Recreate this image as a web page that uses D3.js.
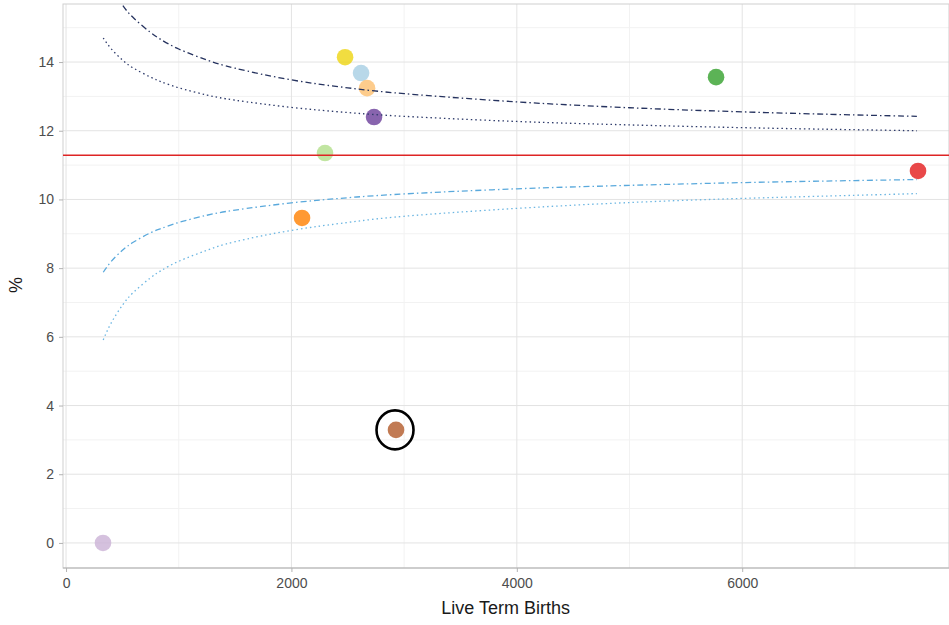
<!DOCTYPE html>
<html>
<head>
<meta charset="utf-8">
<script src="https://cdn.jsdelivr.net/npm/d3@7"></script>
<style>
  body { margin: 0; background: #fff; }
  svg { display: block; font-family: "Liberation Sans", Arial, sans-serif; }
</style>
</head>
<body>
<svg id="chart" width="949" height="625"></svg>
<script>
// units
var births  = [328, 2094, 2298, 2476, 2618, 2671, 2733, 2928, 5768, 7560];
var percent = [0, 9.46, 11.35, 14.14, 13.68, 13.24, 12.40, 3.29, 13.56, 10.83];
var colors  = ["#cab2d6", "#ff7f00", "#b2df8a", "#eed510", "#a6cee3", "#fdbf6f", "#6a3d9a", "#b15928", "#33a02c", "#e31a1c"];
var highlighted = [7]; // the circled unit

var average = 11.29;

// control limits at these sizes
var limitN   = [330, 400, 500, 600, 750, 850, 1000, 1250, 1500, 2000, 2500, 3000, 4000, 5000, 6000, 7000, 7550];
var upper95  = [14.70, 14.39, 14.06, 13.82, 13.56, 13.42, 13.25, 13.04, 12.89, 12.68, 12.53, 12.42, 12.27, 12.17, 12.09, 12.03, 12.00];
var lower95  = [7.88, 8.19, 8.52, 8.76, 9.03, 9.16, 9.33, 9.54, 9.69, 9.90, 10.05, 10.16, 10.31, 10.41, 10.49, 10.55, 10.58];
var upper998 = [16.67, 16.18, 15.66, 15.28, 14.86, 14.64, 14.38, 14.06, 13.82, 13.48, 13.25, 13.08, 12.84, 12.67, 12.55, 12.46, 12.42];
var lower998 = [5.91, 6.40, 6.92, 7.30, 7.72, 7.94, 8.20, 8.52, 8.77, 9.10, 9.33, 9.51, 9.74, 9.91, 10.03, 10.12, 10.17];

var xTicks = [0, 2000, 4000, 6000];
var xMinor = [1000, 3000, 5000, 7000];
var yTicks = [0, 2, 4, 6, 8, 10, 12, 14];
var yMinor = [1, 3, 5, 7, 9, 11, 13, 15];

var svg = d3.select("#chart");

var panelLeft = 63, panelRight = 949, panelTop = 4, panelBottom = 568;

var x = d3.scaleLinear().domain([-27, 7835]).range([panelLeft, panelRight]);
var y = d3.scaleLinear().domain([-0.73, 15.69]).range([panelBottom, panelTop]);

// clip for the panel
svg.append("clipPath").attr("id", "panel")
	.append("rect")
	.attr("x", panelLeft).attr("y", panelTop)
	.attr("width", panelRight - panelLeft).attr("height", panelBottom - panelTop);

// grid
var grid = svg.append("g");

grid.selectAll("line.xminor").data(xMinor).enter().append("line")
	.attr("x1", d => x(d)).attr("x2", d => x(d))
	.attr("y1", panelTop).attr("y2", panelBottom)
	.attr("stroke", "#f2f2f2").attr("stroke-width", 1);

grid.selectAll("line.yminor").data(yMinor).enter().append("line")
	.attr("x1", panelLeft).attr("x2", panelRight)
	.attr("y1", d => y(d)).attr("y2", d => y(d))
	.attr("stroke", "#f2f2f2").attr("stroke-width", 1);

grid.selectAll("line.xmajor").data(xTicks).enter().append("line")
	.attr("x1", d => x(d)).attr("x2", d => x(d))
	.attr("y1", panelTop).attr("y2", panelBottom)
	.attr("stroke", "#e3e3e3").attr("stroke-width", 1);

grid.selectAll("line.ymajor").data(yTicks).enter().append("line")
	.attr("x1", panelLeft).attr("x2", panelRight)
	.attr("y1", d => y(d)).attr("y2", d => y(d))
	.attr("stroke", "#e3e3e3").attr("stroke-width", 1);

// panel border
svg.append("rect")
	.attr("x", panelLeft).attr("y", panelTop)
	.attr("width", panelRight - panelLeft).attr("height", panelBottom - panelTop)
	.attr("fill", "none")
	.attr("stroke", "#cfcfcf").attr("stroke-width", 1);

svg.append("line")
	.attr("x1", panelLeft).attr("x2", panelRight)
	.attr("y1", panelBottom).attr("y2", panelBottom)
	.attr("stroke", "#b3b3b3");

// axes
var xAxis = svg.append("g")
	.attr("transform", "translate(0," + panelBottom + ")")
	.call(d3.axisBottom(x).tickValues(xTicks).tickSize(4).tickPadding(6).tickFormat(d3.format("d")));

var yAxis = svg.append("g")
	.attr("transform", "translate(" + panelLeft + ",0)")
	.call(d3.axisLeft(y).tickValues(yTicks).tickSize(4).tickPadding(5));

[xAxis, yAxis].forEach(function(a) {
	a.select(".domain").remove();
	a.selectAll(".tick line").attr("stroke", "#b3b3b3");
	a.selectAll(".tick text")
		.attr("fill", "#4d4d4d")
		.attr("font-size", "14px")
		.attr("font-family", "Liberation Sans, Arial, sans-serif");
});

// points
var pts = svg.append("g").attr("clip-path", "url(#panel)");

pts.selectAll("circle")
	.data(births.map((b, i) => ({ n: b, p: percent[i], c: colors[i] })))
	.enter()
	.append("circle")
	.attr("cx", d => x(d.n))
	.attr("cy", d => y(d.p))
	.attr("r", 8.3)
	.attr("fill", d => d.c)
	.attr("fill-opacity", 0.8);

// ring round the highlighted unit
svg.selectAll("ellipse.ring")
	.data(highlighted)
	.enter()
	.append("ellipse")
	.attr("class", "ring")
	.attr("cx", i => x(births[i]) - 1)
	.attr("cy", i => y(percent[i]))
	.attr("rx", 18.5)
	.attr("ry", 19.5)
	.attr("fill", "none")
	.attr("stroke", "#000")
	.attr("stroke-width", 2.6);

// average line
svg.append("line")
	.attr("x1", panelLeft).attr("x2", panelRight)
	.attr("y1", y(average)).attr("y2", y(average))
	.attr("stroke", "#de2424")
	.attr("stroke-width", 1.5);

// funnel limits
var line = d3.line()
	.x(d => x(d[0]))
	.y(d => y(d[1]))
	.curve(d3.curveNatural);

var limits = [
	{ v: upper998, color: "#26335f", dash: "6,3,1.5,3", w: 1.3 },
	{ v: upper95,  color: "#2d3a6a", dash: "1.5,3",     w: 1.3 },
	{ v: lower95,  color: "#5aa9dc", dash: "6,3,1.5,3", w: 1.3 },
	{ v: lower998, color: "#6cb6e2", dash: "1.5,3",     w: 1.3 }
];

var lim = svg.append("g").attr("clip-path", "url(#panel)");

limits.forEach(function(l) {
	lim.append("path")
		.datum(limitN.map((n, i) => [n, l.v[i]]))
		.attr("d", line)
		.attr("fill", "none")
		.attr("stroke", l.color)
		.attr("stroke-width", l.w)
		.attr("stroke-dasharray", l.dash);
});

// titles
svg.append("text")
	.attr("x", x(3900))
	.attr("y", 614)
	.attr("text-anchor", "middle")
	.attr("font-size", "18px")
	.attr("fill", "#1a1a1a")
	.text("Live Term Births");

svg.append("text")
	.attr("transform", "translate(22,285) rotate(-90)")
	.attr("text-anchor", "middle")
	.attr("font-size", "18px")
	.attr("fill", "#1a1a1a")
	.text("%");
</script>
</body>
</html>
